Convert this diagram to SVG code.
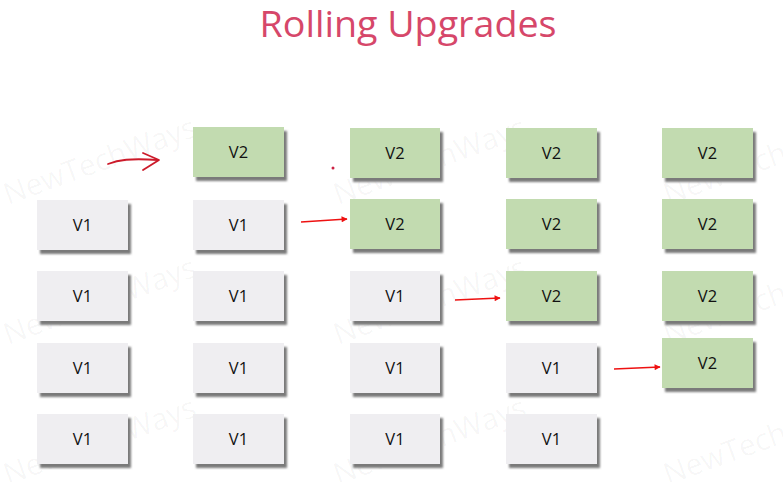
<svg xmlns="http://www.w3.org/2000/svg" width="783" height="482" viewBox="0 0 783 482">
<style>
.wm{font-family:"Open Sans","Liberation Sans",sans-serif;font-size:30px;fill:#000;fill-opacity:0.04}
.s{fill:#7a7a7a;filter:url(#blur)}
.g{fill:#efeef1}
.n{fill:#c2dbb0}
.lbl{font-family:"Open Sans","Liberation Sans",sans-serif;font-size:16.5px;fill:#111;text-anchor:middle}
.arr{stroke:#ee1111;stroke-width:1.6;fill:none;marker-end:url(#ah)}
</style>
<defs>
<filter id="blur" x="-20%" y="-20%" width="140%" height="140%"><feGaussianBlur stdDeviation="1.2"/></filter>
<marker id="ah" viewBox="0 0 10 10" refX="9" refY="5" markerWidth="7" markerHeight="6" orient="auto" markerUnits="userSpaceOnUse"><path d="M0,0 L10,5 L0,10 Z" fill="#ee1111"/></marker>
</defs>
<rect width="783" height="482" fill="#fff"/>
<g id="watermarks">
<text class="wm" transform="translate(8,205) rotate(-20)">NewTechWays</text>
<text class="wm" transform="translate(338,205) rotate(-20)">NewTechWays</text>
<text class="wm" transform="translate(668,205) rotate(-20)">NewTechWays</text>
<text class="wm" transform="translate(8,345) rotate(-20)">NewTechWays</text>
<text class="wm" transform="translate(338,345) rotate(-20)">NewTechWays</text>
<text class="wm" transform="translate(668,345) rotate(-20)">NewTechWays</text>
<text class="wm" transform="translate(8,485) rotate(-20)">NewTechWays</text>
<text class="wm" transform="translate(338,485) rotate(-20)">NewTechWays</text>
<text class="wm" transform="translate(668,485) rotate(-20)">NewTechWays</text>
</g>
<text id="title" x="408" y="37" text-anchor="middle" font-family="Open Sans, Liberation Sans, sans-serif" font-size="36" fill="#d6476a" textLength="297" lengthAdjust="spacingAndGlyphs">Rolling Upgrades</text>
<g id="c1r2" transform="translate(37,200)"><rect class="s" x="3" y="4" width="91" height="50"/><rect class="g" width="91" height="50"/><text class="lbl" x="45.5" y="31">V1</text></g>
<g id="c1r3" transform="translate(37,271)"><rect class="s" x="3" y="4" width="91" height="50"/><rect class="g" width="91" height="50"/><text class="lbl" x="45.5" y="31">V1</text></g>
<g id="c1r4" transform="translate(37,343)"><rect class="s" x="3" y="4" width="91" height="50"/><rect class="g" width="91" height="50"/><text class="lbl" x="45.5" y="31">V1</text></g>
<g id="c1r5" transform="translate(37,414)"><rect class="s" x="3" y="4" width="91" height="50"/><rect class="g" width="91" height="50"/><text class="lbl" x="45.5" y="31">V1</text></g>
<g id="c2r1" transform="translate(193,127)"><rect class="s" x="3" y="4" width="91" height="50"/><rect class="n" width="91" height="50"/><text class="lbl" x="45.5" y="31">V2</text></g>
<g id="c2r2" transform="translate(193,200)"><rect class="s" x="3" y="4" width="91" height="50"/><rect class="g" width="91" height="50"/><text class="lbl" x="45.5" y="31">V1</text></g>
<g id="c2r3" transform="translate(193,271)"><rect class="s" x="3" y="4" width="91" height="50"/><rect class="g" width="91" height="50"/><text class="lbl" x="45.5" y="31">V1</text></g>
<g id="c2r4" transform="translate(193,343)"><rect class="s" x="3" y="4" width="91" height="50"/><rect class="g" width="91" height="50"/><text class="lbl" x="45.5" y="31">V1</text></g>
<g id="c2r5" transform="translate(193,414)"><rect class="s" x="3" y="4" width="91" height="50"/><rect class="g" width="91" height="50"/><text class="lbl" x="45.5" y="31">V1</text></g>
<g id="c3r1" transform="translate(350,128)"><rect class="s" x="3" y="4" width="90" height="50"/><rect class="n" width="90" height="50"/><text class="lbl" x="45" y="31">V2</text></g>
<g id="c3r2" transform="translate(350,199)"><rect class="s" x="3" y="4" width="90" height="50"/><rect class="n" width="90" height="50"/><text class="lbl" x="45" y="31">V2</text></g>
<g id="c3r3" transform="translate(350,271)"><rect class="s" x="3" y="4" width="90" height="50"/><rect class="g" width="90" height="50"/><text class="lbl" x="45" y="31">V1</text></g>
<g id="c3r4" transform="translate(350,343)"><rect class="s" x="3" y="4" width="90" height="50"/><rect class="g" width="90" height="50"/><text class="lbl" x="45" y="31">V1</text></g>
<g id="c3r5" transform="translate(350,414)"><rect class="s" x="3" y="4" width="90" height="50"/><rect class="g" width="90" height="50"/><text class="lbl" x="45" y="31">V1</text></g>
<g id="c4r1" transform="translate(506,128)"><rect class="s" x="3" y="4" width="91" height="50"/><rect class="n" width="91" height="50"/><text class="lbl" x="45.5" y="31">V2</text></g>
<g id="c4r2" transform="translate(506,199)"><rect class="s" x="3" y="4" width="91" height="50"/><rect class="n" width="91" height="50"/><text class="lbl" x="45.5" y="31">V2</text></g>
<g id="c4r3" transform="translate(506,271)"><rect class="s" x="3" y="4" width="91" height="50"/><rect class="n" width="91" height="50"/><text class="lbl" x="45.5" y="31">V2</text></g>
<g id="c4r4" transform="translate(506,343)"><rect class="s" x="3" y="4" width="91" height="50"/><rect class="g" width="91" height="50"/><text class="lbl" x="45.5" y="31">V1</text></g>
<g id="c4r5" transform="translate(506,414)"><rect class="s" x="3" y="4" width="91" height="50"/><rect class="g" width="91" height="50"/><text class="lbl" x="45.5" y="31">V1</text></g>
<g id="c5r1" transform="translate(662,128)"><rect class="s" x="3" y="4" width="91" height="50"/><rect class="n" width="91" height="50"/><text class="lbl" x="45.5" y="31">V2</text></g>
<g id="c5r2" transform="translate(662,199)"><rect class="s" x="3" y="4" width="91" height="50"/><rect class="n" width="91" height="50"/><text class="lbl" x="45.5" y="31">V2</text></g>
<g id="c5r3" transform="translate(662,271)"><rect class="s" x="3" y="4" width="91" height="50"/><rect class="n" width="91" height="50"/><text class="lbl" x="45.5" y="31">V2</text></g>
<g id="c5r4" transform="translate(662,338)"><rect class="s" x="3" y="4" width="91" height="50"/><rect class="n" width="91" height="50"/><text class="lbl" x="45.5" y="31">V2</text></g>
<g id="connectors">
<path d="M108,164 C118,160 130,158 158,160" stroke="#cc1a2a" stroke-width="1.8" fill="none" stroke-linecap="round"/>
<path d="M143,153 L159,160 L143,170" stroke="#cc1a2a" stroke-width="1.8" fill="none" stroke-linecap="round" stroke-linejoin="round"/>
<circle cx="333" cy="168" r="1.5" fill="#cc2244"/>
<path class="arr" d="M301,222 L347,219"/>
<path class="arr" d="M455,300 L500,298"/>
<path class="arr" d="M614,369 L660,367"/>
</g>
</svg>
